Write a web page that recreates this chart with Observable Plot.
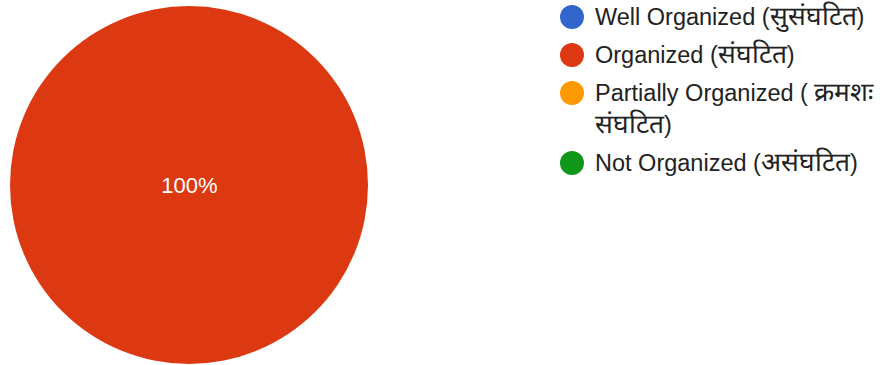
<!DOCTYPE html>
<html>
<head>
<meta charset="utf-8">
<script src="https://cdn.jsdelivr.net/npm/d3@7"></script>
<script src="https://cdn.jsdelivr.net/npm/@observablehq/plot@0.6"></script>
<style>
  html, body { margin: 0; padding: 0; background: #fff; }
  #wrap { position: relative; width: 887px; height: 365px; overflow: hidden; font-family: "Liberation Sans", Arial, sans-serif; }
  #legend { position: absolute; left: 560px; top: 1px; width: 327px; }
  .item { display: flex; align-items: flex-start; margin-bottom: 6px; }
  .sw { width: 24px; height: 24px; border-radius: 50%; flex: none; margin-top: 4px; margin-right: 11px; }
  .lab { font-size: 23.5px; line-height: 32px; color: #222; width: 292px; }
  .deva { font-size: 1.12em; line-height: 0; }
</style>
</head>
<body>
<div id="wrap"><div id="chart"></div><div id="legend"></div></div>
<script>
const categories = ["Well Organized (सुसंघटित)", "Organized (संघटित)", "Partially Organized ( क्रमशः संघटित)", "Not Organized (असंघटित)"];
const values = [0, 100, 0, 0];
const colors = ["#3366cc", "#dc3912", "#ff9900", "#109618"];

const data = categories.map((c, i) => ({category: c, value: values[i]}));
const total = d3.sum(values);
const arcs = d3.pie().sort(null).value(d => d.value)(data);
const color = d3.scaleOrdinal(categories, colors);

// label positions in unit-circle coordinates
const labels = arcs.filter(a => a.value > 0).map(a => {
  const frac = a.value / total;
  const mid = (a.startAngle + a.endAngle) / 2;
  const rr = frac >= 1 ? 0 : 0.6;
  return {x: Math.sin(mid) * rr, y: -Math.cos(mid) * rr, text: Math.round(frac * 100) + "%"};
});

const pieMark = (index, scales) => {
  const cx = scales.x(0), cy = scales.y(0);
  const r = (scales.x(1) - scales.x(-1)) / 2;
  const arc = d3.arc().innerRadius(0).outerRadius(r);
  const g = d3.create("svg:g").attr("transform", `translate(${cx},${cy})`);
  g.selectAll("path").data(arcs.filter(a => a.value > 0)).join("path")
    .attr("d", arc).attr("fill", a => color(a.data.category));
  return g.node();
};

const chart = Plot.plot({
  width: 887,
  height: 365,
  margin: 0,
  style: {background: "white", fontFamily: "'Liberation Sans', Arial, sans-serif"},
  x: {domain: [-1, 1], range: [10, 368], axis: null},
  y: {domain: [-1, 1], range: [6, 364], axis: null},
  marks: [
    pieMark,
    Plot.text(labels, {x: "x", y: "y", text: "text", fill: "white", fontSize: 22})
  ]
});
document.getElementById("chart").append(chart);

const legend = d3.select("#legend");
const items = legend.selectAll(".item").data(categories).join("div").attr("class", "item");
items.append("div").attr("class", "sw").style("background", c => color(c));
items.append("div").attr("class", "lab").each(function(c) {
  const el = d3.select(this);
  c.split(/([\u0900-\u097F]+)/).forEach(part => {
    if (!part) return;
    if (/[\u0900-\u097F]/.test(part)) el.append("span").attr("class", "deva").text(part);
    else el.append("span").text(part);
  });
});
</script>
</body>
</html>
